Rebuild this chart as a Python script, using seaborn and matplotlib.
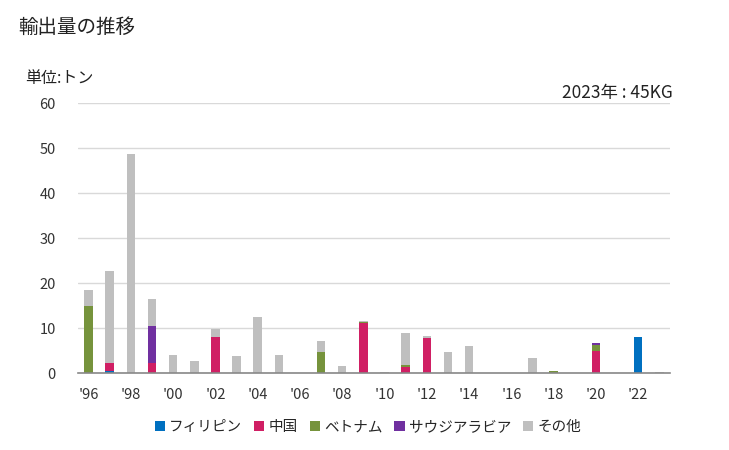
import matplotlib
matplotlib.use("Agg")
import matplotlib.pyplot as plt
import seaborn as sns
import numpy as np
import pandas as pd
from matplotlib.patches import Patch

years = list(range(1996, 2024))
philippines = [0,0.4,0,0,0,0,0,0,0,0,0,0,0,0,0,0,0,0,0,0,0,0,0,0,0,0,8.1,0]
china       = [0,1.9,0,2.3,0,0,8.0,0,0,0,0,0,0,11.1,0,1.4,7.8,0,0,0,0,0,0,0,5.0,0,0,0]
vietnam     = [15.0,0,0,0,0,0,0,0,0,0,0,4.7,0,0.3,0,0.4,0,0,0,0,0,0,0.5,0,1.3,0,0,0]
saudi       = [0,0,0,8.2,0,0,0,0,0,0,0,0,0,0,0,0,0,0,0,0,0,0,0,0,0.3,0,0,0]
other       = [3.5,20.4,48.7,6.0,4.1,2.7,1.9,3.9,12.5,4.1,0,2.5,1.6,0.2,0.3,7.1,0.4,4.7,6.0,0,0,3.4,0,0,0,0,0,0.3]
series_names = ["フィリピン", "中国", "ベトナム", "サウジアラビア", "その他"]
colors = ["#0070C0", "#D01F64", "#76933C", "#7030A0", "#BFBFBF"]

sns.set_theme(style="white")
plt.rcParams['font.family'] = ['Noto Sans CJK JP', 'DejaVu Sans']

fig = plt.figure(figsize=(7.29, 4.5), dpi=100)
ax = fig.add_axes([0.107, 0.171, 0.812, 0.600])

data = np.array([philippines, china, vietnam, saudi, other], dtype=float)
cum = np.cumsum(data, axis=0)
labels = [str(y) for y in years]
for i in range(len(data) - 1, -1, -1):
    vals = np.where(data[i] > 0, cum[i], 0.0)
    df = pd.DataFrame({"year": labels, "value": vals})
    sns.barplot(data=df, x="year", y="value", color=colors[i], saturation=1,
                width=0.4, ax=ax, linewidth=0)

ax.set_xlim(-0.5, 27.5)
ax.set_ylim(0, 60)
ax.set_yticks(range(0, 61, 10))
ax.yaxis.grid(True, color="#d9d9d9", linewidth=1)
ax.set_axisbelow(True)
ax.set_xticks(range(0, 28, 2))
ax.set_xticklabels(["'" + str(y)[2:] for y in years[::2]])
ax.tick_params(axis="both", length=0, labelsize=10.5, colors="#333333")
ax.tick_params(axis="y", pad=16)
ax.tick_params(axis="x", pad=11)
ax.set_xlabel("")
ax.set_ylabel("")
for s in ["top", "right", "left"]:
    ax.spines[s].set_visible(False)
ax.spines["bottom"].set_color("#888888")
ax.spines["bottom"].set_linewidth(1.2)

fig.text(18/729, 1 - 27/450, "輸出量の推移", fontsize=14, va="center", ha="left", color="#222222")
fig.text(25/729, 1 - 78/450, "単位:トン", fontsize=11.5, va="center", ha="left", color="#222222")
fig.text(673/729, 1 - 93/450, "2023年 : 45KG", fontsize=12.5, va="center", ha="right", color="#222222")

handles = [Patch(facecolor=c, edgecolor="none") for c in colors]
fig.legend(handles, series_names, loc="center", bbox_to_anchor=(0.505, 1 - 427/450),
           ncol=5, frameon=False, fontsize=10.5, handlelength=0.7, handleheight=0.7,
           handletextpad=0.3, columnspacing=0.8)

fig.savefig("out.png", dpi=100)
